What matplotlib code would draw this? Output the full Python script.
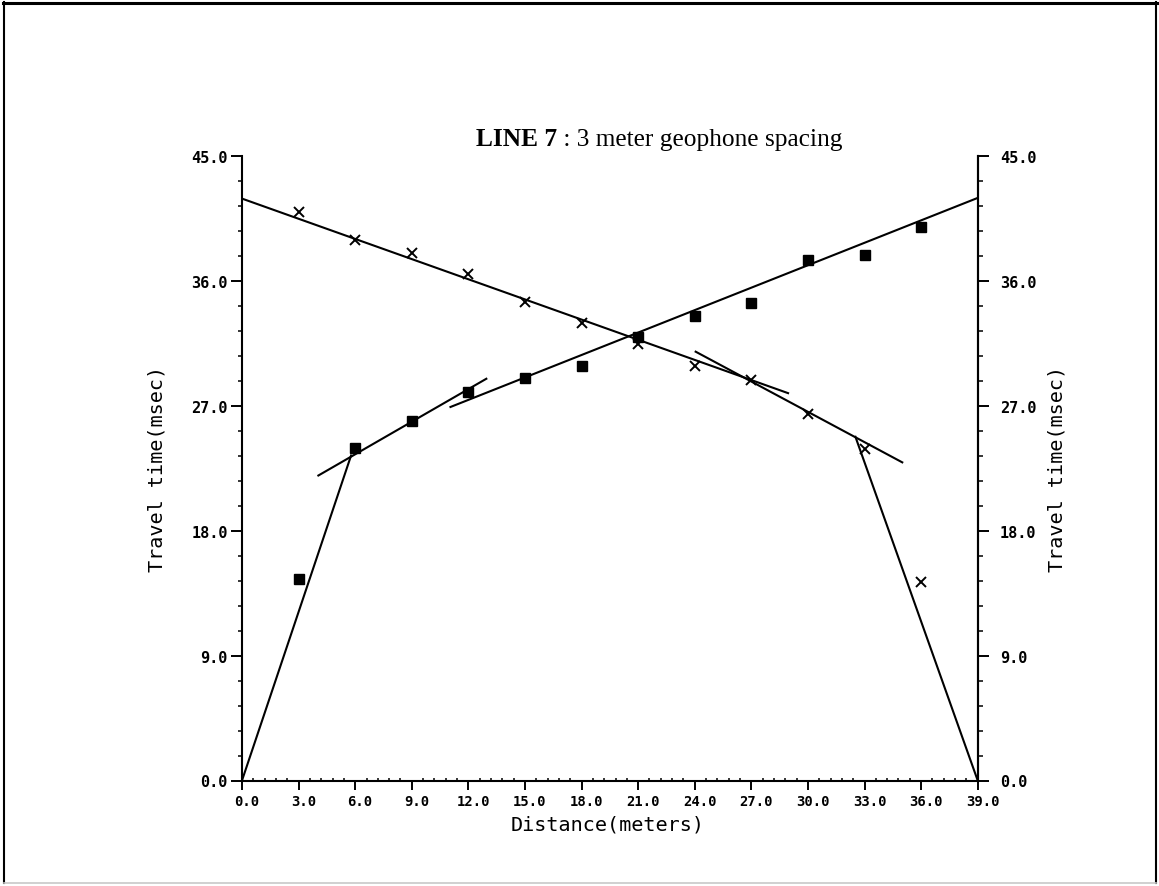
import matplotlib
matplotlib.use("Agg")
import matplotlib.pyplot as plt
import matplotlib.transforms as mtransforms
from matplotlib.lines import Line2D
from matplotlib.ticker import MultipleLocator, FormatStrFormatter

# Geophone offsets along the line (meters)
distance = [3.0, 6.0, 9.0, 12.0, 15.0, 18.0, 21.0, 24.0, 27.0, 30.0, 33.0, 36.0]

# First-arrival picks (msec): forward shot (squares) and reverse shot (crosses)
forward_time = [14.5, 24.0, 25.9, 28.0, 29.0, 29.9, 32.0, 33.5, 34.4, 37.5, 37.9, 39.9]
reverse_time = [41.0, 39.0, 38.0, 36.5, 34.5, 33.0, 31.5, 29.9, 28.9, 26.4, 23.9, 14.3]

# Fitted travel-time segments (distance endpoints, time endpoints)
fwd_direct_x, fwd_direct_t = [0.0, 5.8], [0.0, 23.5]
fwd_layer2_x, fwd_layer2_t = [4.0, 13.0], [21.95, 29.0]
fwd_layer3_x, fwd_layer3_t = [11.0, 39.0], [26.9, 42.0]
rev_direct_x, rev_direct_t = [32.5, 39.0], [24.85, 0.0]
rev_layer2_x, rev_layer2_t = [24.0, 35.05], [30.95, 22.9]
rev_layer3_x, rev_layer3_t = [0.0, 29.0], [41.95, 27.9]

W, H = 1159, 887
fig = plt.figure(figsize=(W / 100, H / 100), dpi=100)
ax = fig.add_axes([242 / W, 105.5 / H, 735.7 / W, 624.2 / H])
ax.set_xlim(0, 39)
ax.set_ylim(0, 45)

mono = "DejaVu Sans Mono"
ink = "black"

for side in ("left", "bottom", "right"):
    ax.spines[side].set_linewidth(1.5)
ax.spines["top"].set_visible(False)

ax.xaxis.set_major_locator(MultipleLocator(3))
ax.xaxis.set_minor_locator(MultipleLocator(0.6))
ax.yaxis.set_major_locator(MultipleLocator(9))
ax.yaxis.set_minor_locator(MultipleLocator(1.8))
ax.xaxis.set_major_formatter(FormatStrFormatter("%.1f"))
ax.yaxis.set_major_formatter(FormatStrFormatter("%.1f"))

ax.tick_params(axis="x", which="major", direction="out", length=6.2, width=1.4,
               pad=3.5, labelsize=10)
ax.tick_params(axis="x", which="minor", direction="in", length=2.2, width=1.1)
ax.tick_params(axis="y", which="major", direction="out", length=7.8, width=1.4,
               pad=2.4, labelsize=11, left=True, right=False)
ax.tick_params(axis="y", which="minor", direction="out", length=3.0, width=1.1,
               left=True, right=False)
for lab in ax.get_xticklabels() + ax.get_yticklabels():
    lab.set_fontfamily(mono)
    lab.set_fontweight("bold")

# nudge the distance labels a little to the right of their ticks
shift = mtransforms.ScaledTranslation(5 / 100, 0, fig.dpi_scale_trans)
for tick in ax.xaxis.get_major_ticks():
    tick.label1.set_transform(tick.label1.get_transform() + shift)

# right-hand time axis
ax2 = ax.twinx()
ax2.set_ylim(0, 45)
for side in ("left", "bottom", "top"):
    ax2.spines[side].set_visible(False)
ax2.spines["right"].set_linewidth(1.5)
ax2.yaxis.set_major_locator(MultipleLocator(9))
ax2.yaxis.set_minor_locator(MultipleLocator(1.8))
ax2.yaxis.set_major_formatter(FormatStrFormatter("%.1f"))
ax2.tick_params(axis="y", which="major", direction="out", length=7.8, width=1.4,
                pad=8.3, labelsize=11)
ax2.tick_params(axis="y", which="minor", direction="out", length=3.6, width=1.1)
for lab in ax2.get_yticklabels():
    lab.set_fontfamily(mono)
    lab.set_fontweight("bold")

# fitted segments
seg_style = dict(color=ink, lw=1.5, clip_on=False, solid_capstyle="butt")
for xs, ts in [(fwd_direct_x, fwd_direct_t), (fwd_layer2_x, fwd_layer2_t),
               (fwd_layer3_x, fwd_layer3_t), (rev_direct_x, rev_direct_t),
               (rev_layer2_x, rev_layer2_t), (rev_layer3_x, rev_layer3_t)]:
    ax.plot(xs, ts, **seg_style)

# picks
ax.plot(distance, forward_time, ls="none", marker="s", ms=7, mfc=ink, mec=ink,
        clip_on=False)
ax.plot(distance, reverse_time, ls="none", marker="x", ms=7.5, mew=1.4, mec=ink,
        clip_on=False)

# axis titles
fig.text(157 / W, 1 - 469 / H, "Travel time(msec)", rotation=90, ha="center",
         va="center", family=mono, fontsize=14.5)
fig.text(1057 / W, 1 - 469 / H, "Travel time(msec)", rotation=90, ha="center",
         va="center", family=mono, fontsize=14.5)
fig.text(608 / W, 1 - 825 / H, "Distance(meters)", ha="center", va="center",
         family=mono, fontsize=14.5)

# chart title: bold line number followed by plain description
t1 = fig.text(476 / W, 1 - 146 / H, "LINE 7", family="Liberation Serif",
              fontweight="bold", fontsize=18.3, ha="left", va="baseline")
fig.canvas.draw()
bb = t1.get_window_extent()
fig.text(bb.x1 / W, 1 - 146 / H, " : 3 meter geophone spacing",
         family="Liberation Serif", fontsize=18.3, ha="left", va="baseline")

# page frame
frame = dict(transform=fig.transFigure, color=ink, lw=1.5)
fig.add_artist(Line2D([4 / W, 4 / W], [1 - 884 / H, 1 - 3 / H], **frame))
fig.add_artist(Line2D([3 / W, 1157 / W], [1 - 4 / H, 1 - 4 / H], color=ink,
                      lw=2.2, transform=fig.transFigure))
fig.add_artist(Line2D([1156 / W, 1156 / W], [1 - 884 / H, 1 - 3 / H], **frame))
fig.add_artist(Line2D([4 / W, 1156 / W], [1 - 884 / H, 1 - 884 / H],
                      color="#c8c8c8", lw=1.2, transform=fig.transFigure))

fig.savefig("out.png", dpi=100)
